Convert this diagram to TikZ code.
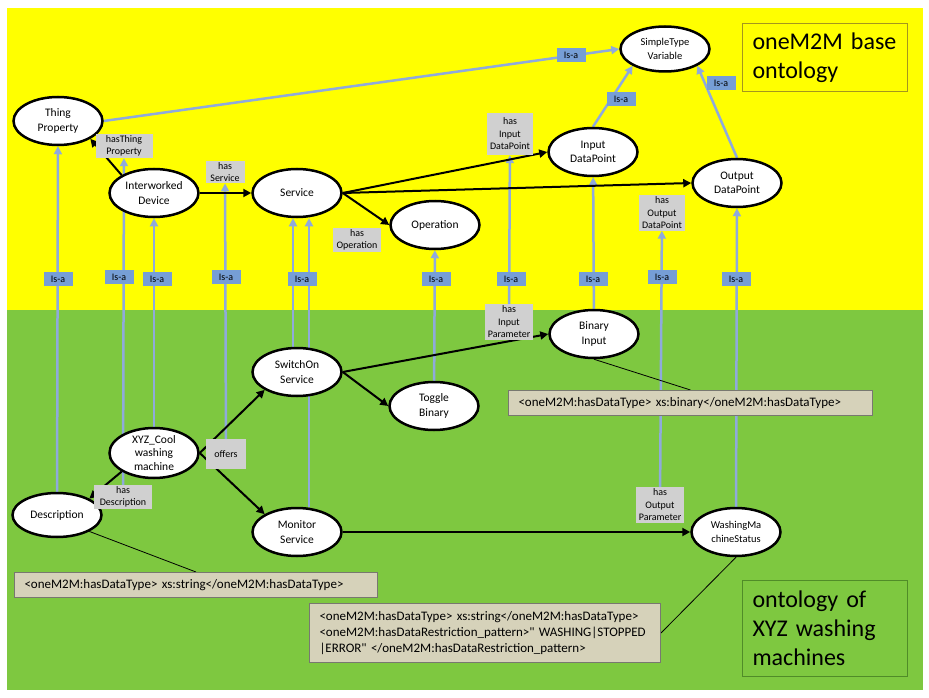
\documentclass[tikz,border=0pt]{standalone}
\usepackage{fontspec}
\setmainfont{Carlito}[Ligatures=TeXOff]
\usetikzlibrary{arrows.meta,shapes.geometric}
\definecolor{ylw}{RGB}{255,255,0}
\definecolor{grn}{RGB}{126,200,64}
\definecolor{blu}{RGB}{143,170,220}
\definecolor{isab}{RGB}{118,158,214}
\definecolor{gry}{RGB}{208,208,208}
\definecolor{notefill}{RGB}{214,210,186}
\definecolor{notedraw}{RGB}{120,120,112}
\definecolor{ylwdraw}{RGB}{165,150,30}
\definecolor{grndraw}{RGB}{80,140,40}
\pgfdeclarelayer{back}
\pgfdeclarelayer{links}
\pgfsetlayers{back,links,main}
\tikzset{
  cls/.style={ellipse, draw=black, line width=2.5pt, fill=white, minimum width=89pt,
    minimum height=48pt, inner sep=0pt, align=center, font=\fontsize{11.5}{14.5}\selectfont},
  rel/.style={fill=gry, inner xsep=3pt, inner ysep=1.5pt, align=center,
    font=\fontsize{10}{12.5}\selectfont},
  isa/.style={fill=isab, minimum width=29pt, minimum height=14pt, inner sep=0pt,
    font=\fontsize{10}{11}\selectfont},
  prop/.style={draw=black, line width=2pt, -{Triangle[length=8pt,width=8pt]}},
  sub/.style={draw=blu, line width=2.5pt, -{Triangle[length=8pt,width=8pt]}},
  note/.style={draw=notedraw, line width=1pt, fill=notefill, anchor=north west, align=left,
    inner xsep=10pt, font=\fontsize{13}{16}\selectfont},
  title/.style={line width=1pt, anchor=north west, align=left, inner xsep=10pt,
    text width=145pt, font=\fontsize{24}{29}\selectfont},
  ann/.style={draw=black, line width=0.8pt}
}
\begin{document}
\begin{tikzpicture}[x=1pt,y=-1pt]
\useasboundingbox (0,0) rectangle (929,698);
\begin{pgfonlayer}{back}
\fill[ylw] (7,8) rectangle (923,310);
\fill[grn] (7,310) rectangle (923,690);
\end{pgfonlayer}

% classes
\node[cls] (thing) at (58,121) {Thing\\Property};
\node[cls] (iwd) at (154,193) {Interworked\\Device};
\node[cls] (svc) at (297,193) {Service};
\node[cls] (op) at (435,225) {Operation};
\node[cls] (idp) at (593,152) {Input\\DataPoint};
\node[cls, minimum height=45pt, font=\fontsize{10.5}{13.5}\selectfont] (stv) at (665,49) {SimpleType\\Variable};
\node[cls] (odp) at (737,183) {Output\\DataPoint};
\node[cls] (sw) at (297,372) {SwitchOn\\Service};
\node[cls] (tog) at (434,406) {Toggle\\Binary};
\node[cls] (bin) at (594,334) {Binary\\Input};
\node[cls, minimum height=50pt, inner ysep=-4pt, font=\fontsize{11.5}{13.5}\selectfont] (xyz) at (154,453) {XYZ\_Cool\\washing\\machine};
\node[cls, minimum height=44pt] (desc) at (57,515) {Description};
\node[cls] (mon) at (297,532) {Monitor\\Service};
\node[cls, font=\fontsize{10.5}{13.5}\selectfont] (wms) at (736,532) {WashingMa\\chineStatus};

% property labels
\node[rel, minimum width=57pt] (lhasThing) at (124,146) {hasThing\\Property};
\node[rel, minimum width=39pt] (lhasSvc) at (225,172) {has\\Service};
\node[rel, minimum width=48pt] (lhasOp) at (357,240) {has\\Operation};
\node[rel, minimum width=43pt, minimum height=42pt] (lhasInDP) at (510,134) {has\\Input\\DataPoint};
\node[rel, minimum width=43pt] (lhasOutDP) at (662,213) {has\\Output\\DataPoint};
\node[rel, minimum width=40pt, minimum height=30pt] (loffers) at (226,454) {offers};
\node[rel, minimum width=48pt] (lhasInPar) at (509,322) {has\\Input\\Parameter};
\node[rel, minimum width=58pt] (lhasDesc) at (123,497) {has\\Description};
\node[rel, minimum width=48pt] (lhasOutPar) at (660,505) {has\\Output\\Parameter};

\foreach \x/\y [count=\i] in {58/279,119/277,157/279,226/277,302/279,436/279,511/279,593/279,662/277,736/279,621/99,721/83,571/55}
  \node[isa] (isa\i) at (\x,\y) {Is-a};

% data type notes
\node[note, text width=344pt, minimum height=25pt] (nbin) at (508,390) {<oneM2M:hasDataType> xs:binary</oneM2M:hasDataType>};
\node[note, text width=343pt, minimum height=25pt] (nstr) at (14,572) {<oneM2M:hasDataType> xs:string</oneM2M:hasDataType>};
\node[note, text width=331pt, minimum height=59pt] (nres) at (309,603) {<oneM2M:hasDataType> xs:string</oneM2M:hasDataType>\\<oneM2M:hasDataRestriction\_pattern>" WASHING|STOPPED\\|ERROR" </oneM2M:hasDataRestriction\_pattern>};

\node[title, fill=ylw, draw=ylwdraw, minimum height=68pt] (tbase) at (742,23) {oneM2M base\\ontology};
\node[title, fill=grn, draw=grndraw, minimum height=96pt] (txyz) at (742,580) {ontology of\\XYZ washing\\machines};

\begin{pgfonlayer}{links}
% is-a links
\draw[sub] (desc) -- (thing);
\draw[sub] (lhasDesc) -- (lhasThing);
\draw[sub] (xyz) -- (iwd);
\draw[sub] (loffers) -- (lhasSvc);
\draw[sub] ([xshift=-4pt]sw.north) -- ([xshift=-4pt]svc.south);
\draw[sub] ([xshift=12pt]mon.north) -- ([xshift=12pt]svc.south);
\draw[sub] (tog) -- (op);
\draw[sub] (lhasInPar) -- (lhasInDP);
\draw[sub] (bin) -- (idp);
\draw[sub] (lhasOutPar) -- (lhasOutDP);
\draw[sub] (wms) -- (odp);
\draw[sub] (idp.north) -- (stv.south west);
\draw[sub] (odp.north) -- (stv.south east);
\draw[sub] (thing.east) -- (stv.west);
% properties
\draw[prop] (iwd.north west) -- (thing.south east);
\draw[prop] (iwd) -- (svc);
\draw[prop] (svc.east) -- (op.west);
\draw[prop] (svc.east) -- (idp.west);
\draw[prop] (svc.east) -- (odp.west);
\draw[prop] (xyz.east) -- (sw.south west);
\draw[prop] (xyz.east) -- (mon.north west);
\draw[prop] (xyz.south west) -- (desc.north east);
\draw[prop] (sw.east) -- (bin.west);
\draw[prop] (sw.east) -- (tog.west);
\draw[prop] (mon) -- (wms);
% notes
\draw[ann] (bin.south) -- (nbin.north);
\draw[ann] (desc.south east) -- (nstr.north);
\draw[ann] (wms.south) -- (nres.east);
\end{pgfonlayer}
\end{tikzpicture}
\end{document}
